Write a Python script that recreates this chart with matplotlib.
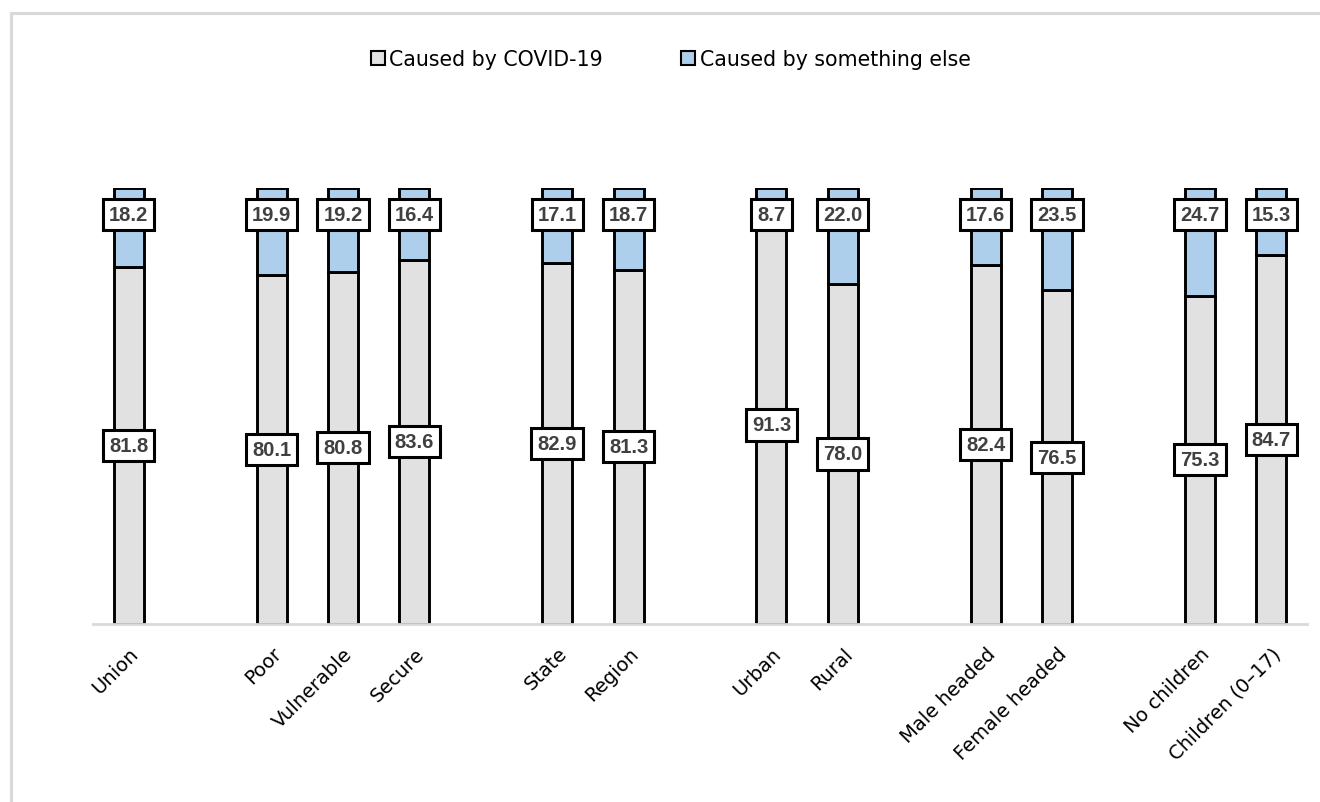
import matplotlib
matplotlib.use("Agg")
import matplotlib.pyplot as plt
from matplotlib.patches import Patch, Rectangle

# Groups of categories; an empty slot separates each group
groups = [
    ["Union"],
    ["Poor", "Vulnerable", "Secure"],
    ["State", "Region"],
    ["Urban", "Rural"],
    ["Male headed", "Female headed"],
    ["No children", "Children (0\u201317)"],
]
covid = [81.8, 80.1, 80.8, 83.6, 82.9, 81.3, 91.3, 78.0, 82.4, 76.5, 75.3, 84.7]
other = [18.2, 19.9, 19.2, 16.4, 17.1, 18.7, 8.7, 22.0, 17.6, 23.5, 24.7, 15.3]
series_names = ["Caused by COVID-19", "Caused by something else"]

GRAY = "#E1E1E1"
BLUE = "#ADCFEB"
TEXT = "#404040"
TICK_FONT = "DejaVu Sans"
LABEL_FONT = "Liberation Sans"

labels, xpos = [], []
slot = 0
for g in groups:
    for name in g:
        labels.append(name)
        xpos.append(slot)
        slot += 1
    slot += 1

fig = plt.figure(figsize=(13.2, 8.03), dpi=100)
fig.patch.set_facecolor("white")

# thin frame around the figure area
fig.patches.append(Rectangle((11 / 1320, -0.1), 1.2, (803 - 14) / 803 + 0.1,
                             transform=fig.transFigure, fill=False,
                             edgecolor="#D9D9D9", linewidth=2.2, zorder=0))

ax = fig.add_axes([93 / 1320, (803 - 625) / 803, (1307 - 93) / 1320, 436 / 803])
width = 0.42
ax.bar(xpos, covid, width=width, color=GRAY, edgecolor="black", linewidth=2.1,
       zorder=2)
ax.bar(xpos, other, width=width, bottom=covid, color=BLUE, edgecolor="black",
       linewidth=2.1, zorder=2)

box = dict(boxstyle="square,pad=0.3", facecolor="white", edgecolor="black",
           linewidth=2.2)
for x, c, o in zip(xpos, covid, other):
    ax.text(x, c / 2, f"{c:.1f}", ha="center", va="center", fontsize=14.5,
            fontweight="bold", color=TEXT, family=LABEL_FONT, bbox=box,
            zorder=5)
    ax.text(x, 94, f"{o:.1f}", ha="center", va="center", fontsize=14.5,
            fontweight="bold", color=TEXT, family=LABEL_FONT, bbox=box,
            zorder=5)

ax.set_xlim(-0.5, slot - 1.5)
ax.set_ylim(0, 100)
for s in ["top", "right", "left"]:
    ax.spines[s].set_visible(False)
ax.spines["bottom"].set_color("#D9D9D9")
ax.spines["bottom"].set_linewidth(2)
ax.set_yticks([])
ax.set_xticks(xpos)
ax.set_xticklabels(labels, rotation=45, ha="right", rotation_mode="anchor",
                   fontsize=14, family=TICK_FONT)
ax.tick_params(axis="x", length=0, pad=14)

handles = [Patch(facecolor=GRAY, edgecolor="black", linewidth=1.5),
           Patch(facecolor=BLUE, edgecolor="black", linewidth=1.5)]
fig.legend(handles, series_names, loc="center", bbox_to_anchor=(0.508, 1 - 60 / 803),
           ncol=2, frameon=False, handlelength=0.7, handleheight=0.7,
           handletextpad=0.2, columnspacing=3.8,
           prop=dict(family=TICK_FONT, size=14.8))

fig.savefig("out.png", dpi=100)
